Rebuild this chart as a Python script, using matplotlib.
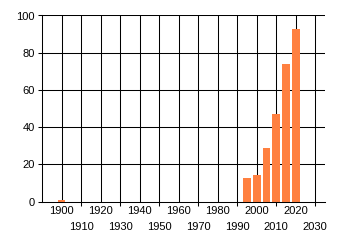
import numpy as np
import matplotlib.pyplot as plt

plt.rcParams['font.family'] = ['Liberation Sans', 'DejaVu Sans']

years = [1900, 1995, 2000, 2005, 2010, 2015, 2020]
values = [1, 12.5, 14, 29, 47, 74, 93]
even_ticks = [1900, 1920, 1940, 1960, 1980, 2000, 2020]
odd_ticks = [1910, 1930, 1950, 1970, 1990, 2010, 2030]
y_ticks = [0, 20, 40, 60, 80, 100]

fig = plt.figure(figsize=(3.4, 2.45), dpi=100)
ax = fig.add_axes([42/340, 1 - 201.5/245, (325-42)/340, (201.5-15.5)/245])

lw = 0.75
ax.set_axisbelow(True)
for x in even_ticks + odd_ticks:
    ax.axvline(x, color='black', lw=lw, zorder=0)
for y in y_ticks[1:]:
    ax.axhline(y, color='black', lw=lw, zorder=0)

ax.bar(years, values, width=4, color='#ff8040', zorder=2)

ax.set_xlim(1890, 2035)
ax.set_ylim(0, 100)

ax.set_xticks(even_ticks)
ax.set_xticklabels([str(t) for t in even_ticks])
ax.set_xticks(odd_ticks, minor=True)
ax.set_xticklabels([str(t) for t in odd_ticks], minor=True)
ax.tick_params(axis='x', which='major', length=0, pad=3, labelsize=8)
ax.tick_params(axis='x', which='minor', length=3, width=lw, pad=12, labelsize=8)
ax.set_yticks(y_ticks)
ax.tick_params(axis='y', length=3, width=lw, pad=2, labelsize=8)

for s in ['top', 'right']:
    ax.spines[s].set_visible(False)
for s in ['left', 'bottom']:
    ax.spines[s].set_linewidth(lw)

fig.savefig('out.png', dpi=100)
